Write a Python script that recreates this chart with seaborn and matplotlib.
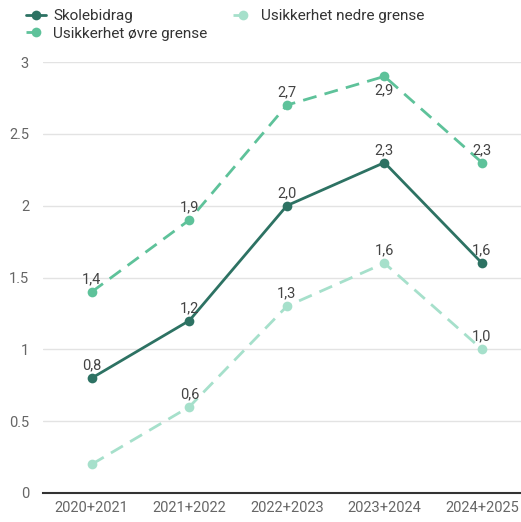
import matplotlib
matplotlib.use("Agg")
import matplotlib.pyplot as plt
import seaborn as sns
import pandas as pd

periods = ["2020+2021", "2021+2022", "2022+2023", "2023+2024", "2024+2025"]
skolebidrag = [0.8, 1.2, 2.0, 2.3, 1.6]
ovre_grense = [1.4, 1.9, 2.7, 2.9, 2.3]
nedre_grense = [0.2, 0.6, 1.3, 1.6, 1.0]

series_names = ["Skolebidrag", "Usikkerhet øvre grense", "Usikkerhet nedre grense"]
colors = {"Skolebidrag": "#2d7263",
          "Usikkerhet øvre grense": "#5ec29a",
          "Usikkerhet nedre grense": "#a6e0cb"}

df = pd.DataFrame({
    "periode": periods * 3,
    "x": list(range(len(periods))) * 3,
    "verdi": skolebidrag + ovre_grense + nedre_grense,
    "serie": [s for s in series_names for _ in periods],
})

sns.set_style("white")
plt.rcParams["font.family"] = ["Roboto", "DejaVu Sans"]

fig = plt.figure(figsize=(5.21, 5.22), dpi=100)
ax = fig.add_axes([43 / 521, 1 - 493 / 522, 478 / 521, (493 - 62) / 522])

for name in series_names:
    sub = df[df["serie"] == name]
    sns.lineplot(data=sub, x="x", y="verdi", ax=ax, color=colors[name],
                 linewidth=2, marker="o", markersize=7, markeredgewidth=0,
                 linestyle="-" if name == "Skolebidrag" else (0, (5, 3)),
                 label=name, zorder=3)

# data labels
label_skip = {("Usikkerhet nedre grense", 0)}
below = {("Usikkerhet øvre grense", 3)}
for name, vals in zip(series_names, [skolebidrag, ovre_grense, nedre_grense]):
    for i, v in enumerate(vals):
        if (name, i) in label_skip:
            continue
        txt = f"{v:.1f}".replace(".", ",")
        if (name, i) in below:
            ax.annotate(txt, (i, v), xytext=(0, -5), textcoords="offset points",
                        ha="center", va="top", fontsize=10.5, color="#444444")
        else:
            ax.annotate(txt, (i, v), xytext=(0, 4), textcoords="offset points",
                        ha="center", va="bottom", fontsize=10.5, color="#444444")

ax.set_xlim(-0.5, 4.4)
ax.set_ylim(0, 3)
ax.set_xticks(range(len(periods)))
ax.set_xticklabels(periods)
ax.set_yticks([0, 0.5, 1, 1.5, 2, 2.5, 3])
ax.set_yticklabels(["0", "0.5", "1", "1.5", "2", "2.5", "3"])
ax.set_xlabel("")
ax.set_ylabel("")
ax.grid(axis="y", color="#e3e3e3", linewidth=1)
ax.set_axisbelow(True)
for side in ["top", "right", "left"]:
    ax.spines[side].set_visible(False)
ax.spines["bottom"].set_color("#333333")
ax.spines["bottom"].set_linewidth(1.5)
ax.tick_params(axis="both", length=0, labelsize=10.5, colors="#666666")
ax.tick_params(axis="y", pad=10)
ax.tick_params(axis="x", pad=6)

handles, labels = ax.get_legend_handles_labels()
leg = ax.legend(handles, labels,
                loc="upper left", bbox_to_anchor=(-0.065, 1.155), ncol=2,
                frameon=False, fontsize=11, handlelength=1.3,
                columnspacing=1.7, labelspacing=0.25, handletextpad=0.5)
for t in leg.get_texts():
    t.set_color("#333333")

fig.savefig("out.png", dpi=100)
